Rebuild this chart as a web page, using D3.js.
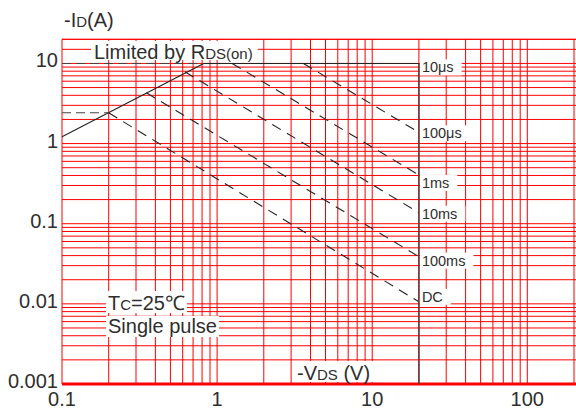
<!DOCTYPE html>
<html>
<head>
<meta charset="utf-8">
<script src="https://cdn.jsdelivr.net/npm/d3@7"></script>
<style>
  body { margin: 0; background: #fff; }
  svg { display: block; }
</style>
</head>
<body>
<div id="chart"></div>
<script>
const WIDTH = 576;
const HEIGHT = 409;

// axis data
const X_TICKS = [0.1, 1, 10, 100];
const Y_TICKS = [0.001, 0.01, 0.1, 1, 10];
const X_DECADES = [0.1, 1, 10, 100];
const Y_DECADES = [0.001, 0.01, 0.1, 1, 10];
const Y_EXTRA_GRID = [15, 20];

// Rds(on) limit line (V, A)
const RDS_V = [0.1, 0.82];
const RDS_I = [1.22, 10];

// pulse lines: start on the limit, end at Vds = 20 V
const PULSE_LABELS = ["10μs", "100μs", "1ms", "10ms", "100ms", "DC"];
const PULSE_START_V = [0.82, 3.6, 1.25, 0.62, 0.35, 0.2];
const PULSE_START_I = [10, 10, 10, 7.86, 4.3, 2.42];
const PULSE_END_I = [10, 1.38, 0.405, 0.137, 0.0388, 0.0106];
const V_MAX = 20;

// dashed extensions left of the limit line
const EXT_I = [10, 2.42];
const EXT_V = [0.82, 0.2];

const FONT = '"Liberation Sans", Arial, sans-serif';
const TEXT = "#2e2e2e";

const x = d3.scaleLog().domain([0.1, 200]).range([62, 574]);
const y = d3.scaleLog().domain([0.001, 20]).range([384, 39.3]);

const svg = d3.select('#chart').append('svg')
  .attr('width', WIDTH).attr('height', HEIGHT);

svg.append('rect').attr('width', WIDTH).attr('height', HEIGHT).attr('fill', '#fff');

// grid
let xGrid = [];
X_DECADES.forEach(d => { for (let k = 1; k <= 9; k++) if (d * k <= 200) xGrid.push(d * k); });
let yGrid = [];
Y_DECADES.forEach(d => { for (let k = 1; k <= 9; k++) if (d * k <= 20) yGrid.push(d * k); });
yGrid = yGrid.concat(Y_EXTRA_GRID);

const grid = svg.append('g').attr('stroke', '#ff0000').attr('stroke-width', 1);
grid.selectAll('.vg').data(xGrid).enter().append('line')
  .attr('x1', d => x(d)).attr('x2', d => x(d))
  .attr('y1', y(20)).attr('y2', y(0.001));
grid.selectAll('.hg').data(yGrid).enter().append('line')
  .attr('x1', x(0.1)).attr('x2', WIDTH)
  .attr('y1', d => y(d)).attr('y2', d => y(d));
svg.append('line').attr('stroke', '#ff0000').attr('stroke-width', 3)
  .attr('x1', x(0.1)).attr('x2', WIDTH)
  .attr('y1', y(0.001)).attr('y2', y(0.001));

// text with white backing box
const boxText = (g, px, py, parts, pad) => {
  const t = g.append('text').attr('x', px).attr('y', py)
    .attr('font-family', FONT).attr('fill', TEXT);
  parts.forEach(p => t.append('tspan').attr('font-size', p[1]).text(p[0]));
  const b = t.node().getBBox();
  g.insert('rect', 'text')
    .attr('x', b.x - pad[0]).attr('y', b.y - pad[1])
    .attr('width', b.width + pad[0] + pad[2]).attr('height', b.height + pad[1] + pad[3])
    .attr('fill', '#fff');
  return t;
};

const labels = svg.append('g');
boxText(labels.append('g'), 94, 59, [["Limited by R", 20], ["DS(on)", 15]], [3, 0, 5, -3]);
boxText(labels.append('g'), 108, 310, [["T", 20], ["C", 15], ["=25℃", 20]], [2, 1, 2, -1]);
boxText(labels.append('g'), 108, 333, [["Single pulse", 20]], [2, -1, 2, 0]);
boxText(labels.append('g'), 297, 380, [["-V", 20], ["DS", 15], [" (V)", 20]], [3, 1, 3, -2]);

// pulse labels at the 20 V edge
const LABEL_DY = [4, 1, 8, 1, 4, -5];
PULSE_LABELS.forEach((lab, i) => {
  boxText(labels.append('g'), x(V_MAX) + 3, y(PULSE_END_I[i]) + LABEL_DY[i] + 5,
    [[lab, 14.5]], [2, 0, 8, 0]);
});

// curves
const line = d3.line().x(d => x(d[0])).y(d => y(d[1]));
const curves = svg.append('g').attr('fill', 'none').attr('stroke', '#222').attr('stroke-width', 1.1);

curves.append('path')
  .attr('d', line([[RDS_V[0], RDS_I[0]], [RDS_V[1], RDS_I[1]]]));

EXT_I.forEach((iv, i) => {
  curves.append('path')
    .attr('stroke', '#444')
    .attr('stroke-dasharray', '9,5')
    .attr('d', line([[0.1, iv], [EXT_V[i], iv]]));
});

PULSE_LABELS.forEach((lab, i) => {
  curves.append('path')
    .attr('stroke-dasharray', i === 0 ? null : '10,7')
    .attr('d', line([[PULSE_START_V[i], PULSE_START_I[i]], [V_MAX, PULSE_END_I[i]]]));
});

// 20 V boundary
curves.append('line')
  .attr('stroke', '#5a3c3c').attr('stroke-width', 1.5)
  .attr('x1', x(V_MAX)).attr('x2', x(V_MAX))
  .attr('y1', y(10)).attr('y2', y(0.001));

// tick labels
const ticks = svg.append('g').attr('font-family', FONT).attr('font-size', 20).attr('fill', TEXT);
ticks.selectAll('.xt').data(X_TICKS).enter().append('text')
  .attr('x', d => x(d)).attr('y', 406)
  .attr('text-anchor', 'middle')
  .text(d => d3.format('~g')(d));
ticks.selectAll('.yt').data(Y_TICKS).enter().append('text')
  .attr('x', 58).attr('y', d => y(d) + 4)
  .attr('text-anchor', 'end')
  .text(d => d3.format('~g')(d));

// y axis title
const yt = svg.append('text').attr('x', 64).attr('y', 27)
  .attr('font-family', FONT).attr('fill', TEXT);
yt.append('tspan').attr('font-size', 20).text('-I');
yt.append('tspan').attr('font-size', 15).text('D');
yt.append('tspan').attr('font-size', 20).text('(A)');
</script>
</body>
</html>
